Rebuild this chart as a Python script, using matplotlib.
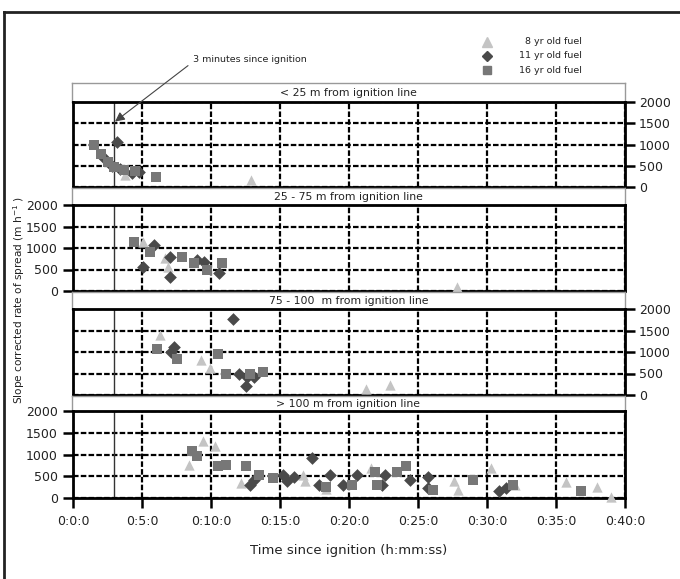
import matplotlib.pyplot as plt
from matplotlib.lines import Line2D

W, H = 680, 579

# time in minutes since ignition, rate of spread in m/h
panel_titles = ['< 25 m from ignition line', '25 - 75 m from ignition line',
                '75 - 100  m from ignition line', '> 100 m from ignition line']
fuel_labels = ['8 yr old fuel', '11 yr old fuel', '16 yr old fuel']

# < 25 m
p1_t8 = [3.8, 12.9]
p1_r8 = [280, 170]
p1_t11 = [3.2, 2.2, 2.8, 3.4, 4.3, 4.8]
p1_r11 = [1070, 700, 500, 430, 330, 350]
p1_t16 = [1.5, 2.0, 2.5, 3.0, 3.7, 4.5, 6.0]
p1_r16 = [990, 770, 600, 470, 400, 380, 240]

# 25 - 75 m
p2_t8 = [5.1, 6.7, 6.9, 27.8]
p2_r8 = [1150, 760, 565, 100]
p2_t11 = [5.9, 5.1, 7.0, 7.0, 9.0, 9.5, 10.6]
p2_r11 = [1070, 550, 800, 320, 720, 680, 410]
p2_t16 = [4.4, 5.6, 7.9, 8.8, 9.7, 10.8]
p2_r16 = [1150, 910, 780, 640, 490, 640]

# 75 - 100 m
p3_t8 = [6.3, 9.3, 9.9, 21.2, 23.0]
p3_r8 = [1400, 810, 620, 150, 230]
p3_t11 = [11.6, 7.3, 7.1, 12.0, 12.6, 12.5, 13.1]
p3_r11 = [1760, 1120, 1000, 500, 410, 200, 410]
p3_t16 = [6.1, 7.5, 10.5, 11.1, 12.8, 13.8]
p3_r16 = [1060, 830, 960, 500, 500, 540]

# > 100 m
p4_t8 = [8.4, 9.4, 10.3, 12.2, 16.7, 16.8, 18.3, 21.6, 27.6, 27.9, 30.3, 32.0, 35.7, 38.0, 39.0]
p4_r8 = [760, 1310, 1200, 340, 530, 390, 200, 680, 380, 190, 690, 300, 360, 260, 30]
p4_t11 = [12.8, 13.1, 15.2, 15.5, 16.0, 17.3, 17.8, 18.6, 19.6, 20.6, 22.4, 22.6, 24.4,
          25.7, 25.7, 30.9, 31.4]
p4_r11 = [300, 415, 530, 390, 490, 910, 300, 530, 300, 530, 300, 530, 415,
          490, 220, 150, 230]
p4_t16 = [8.6, 9.0, 10.5, 11.1, 12.5, 13.5, 14.5, 18.3, 20.2, 21.9, 22.0, 23.5, 24.1,
          26.1, 29.0, 31.9, 36.8]
p4_r16 = [1080, 960, 740, 760, 740, 530, 450, 260, 300, 600, 300, 600, 740,
          190, 410, 300, 150]

panels = [
    (p1_t8, p1_r8, p1_t11, p1_r11, p1_t16, p1_r16),
    (p2_t8, p2_r8, p2_t11, p2_r11, p2_t16, p2_r16),
    (p3_t8, p3_r8, p3_t11, p3_r11, p3_t16, p3_r16),
    (p4_t8, p4_r8, p4_t11, p4_r11, p4_t16, p4_r16),
]

x_ticks = [0, 5, 10, 15, 20, 25, 30, 35, 40]
x_ticklabels = ['0:%d:0' % m for m in x_ticks]
y_ticks = [0, 500, 1000, 1500, 2000]

styles = [dict(marker='^', color='#c4c4c4', s=55),
          dict(marker='D', color='#4a4a4a', s=42),
          dict(marker='s', color='#777777', s=48)]

plt.rcParams['font.family'] = 'DejaVu Sans'
fig = plt.figure(figsize=(W / 100, H / 100), dpi=100)

# outer frame
fig.add_artist(Line2D([4 / W, 1], [1 - 12 / H, 1 - 12 / H], color='#222222', lw=2,
                      transform=fig.transFigure))
fig.add_artist(Line2D([4 / W, 4 / W], [1 - 12 / H, 0], color='#222222', lw=2,
                      transform=fig.transFigure))

x0, x1 = 73, 625
plot_rows = [(102, 187), (205, 291), (309, 395), (411, 498)]
head_tops = [83, 188, 292, 396]

axes = []
for i, ((top, bot), htop) in enumerate(zip(plot_rows, head_tops)):
    # header strip
    hax = fig.add_axes([(x0 - 1) / W, 1 - top / H, (x1 - x0 + 1) / W, (top - htop) / H])
    hax.set_xticks([])
    hax.set_yticks([])
    for sp in hax.spines.values():
        sp.set_color('#999999')
        sp.set_linewidth(1)
    hax.text(0.5, 0.45, panel_titles[i], ha='center', va='center', fontsize=7.8,
             color='#222222', transform=hax.transAxes)

    ax = fig.add_axes([x0 / W, 1 - bot / H, (x1 - x0) / W, (bot - top) / H])
    t8, r8, t11, r11, t16, r16 = panels[i]
    for (tt, rr), st in zip([(t8, r8), (t11, r11), (t16, r16)], styles):
        ax.scatter(tt, rr, zorder=3, linewidths=0, clip_on=False, **st)
    ax.axvline(3, color='#333333', lw=1, zorder=2)
    ax.set_xlim(0, 40)
    ax.set_ylim(0, 2000)
    ax.set_xticks(x_ticks)
    ax.set_yticks(y_ticks)
    ax.grid(True, color='black', linestyle=(0, (2.5, 1)), lw=1.6, zorder=1)
    for sp in ax.spines.values():
        sp.set_linewidth(2)
    ax.tick_params(axis='both', direction='out', length=7, width=1.8,
                   labelsize=9, colors='black', labelcolor='#222222')
    if i in (0, 2):
        ax.yaxis.tick_right()
        ax.tick_params(axis='y', pad=3)
    else:
        ax.tick_params(axis='y', pad=4)
    if i < 3:
        ax.tick_params(axis='x', length=0, labelbottom=False)
    else:
        ax.set_xticklabels(x_ticklabels)
        ax.tick_params(axis='x', pad=5)
        ax.set_xlabel('Time since ignition (h:mm:ss)', fontsize=9.5, labelpad=12,
                      color='#222222')
    axes.append(ax)

fig.text(19 / W, 1 - 300 / H, 'Slope corrected rate of spread (m h$^{-1}$ )',
         rotation=90, ha='center', va='center', fontsize=7.6, color='#222222')

# annotation
axes[0].annotate('3 minutes since ignition', xy=(3.05, 1540),
                 xytext=(193 / W, 1 - 60 / H), textcoords='figure fraction',
                 ha='left', va='center', fontsize=6.8, color='#222222',
                 arrowprops=dict(arrowstyle='-|>', color='#444444', lw=0.8,
                                 mutation_scale=14, shrinkA=2, shrinkB=0,
                                 relpos=(0, 0.3)))

# legend
for j, (lab, st) in enumerate(zip(fuel_labels, styles)):
    yy = 1 - (42 + 14 * j) / H
    fig.add_artist(Line2D([487 / W], [yy], marker=st['marker'], color=st['color'],
                          markersize={'^': 6.5, 'D': 5.5, 's': 6}[st['marker']],
                          linestyle='none', transform=fig.transFigure))
    fig.text(582 / W, yy, lab, ha='right', va='center', fontsize=6.8, color='#222222')

fig.savefig('out.png', dpi=100)
